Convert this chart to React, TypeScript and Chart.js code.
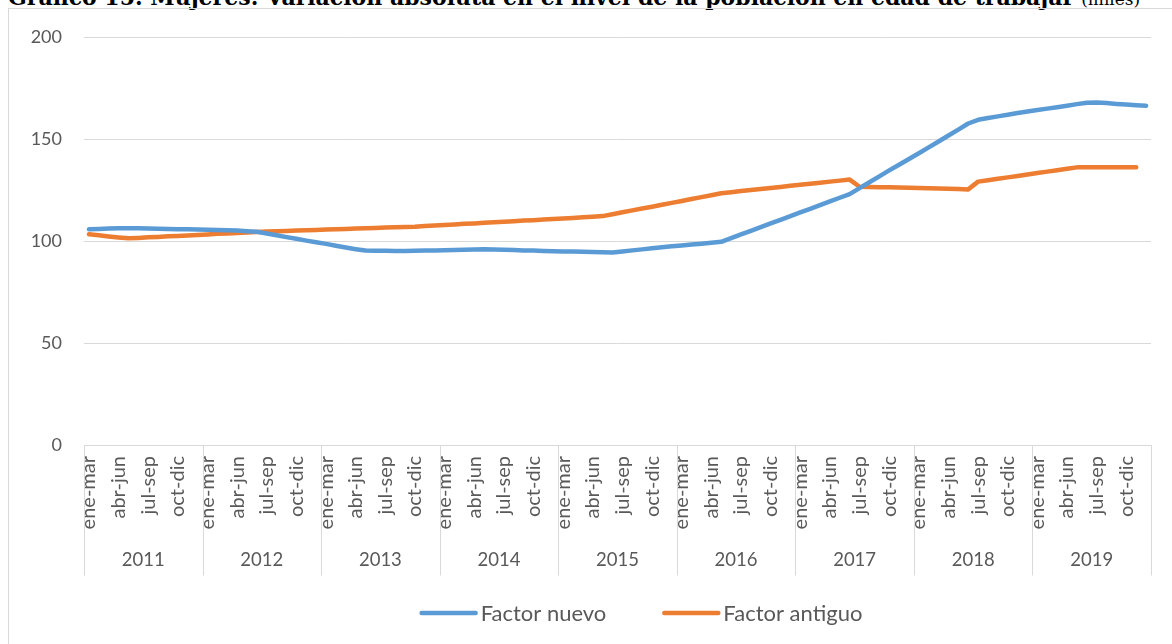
import React, { useEffect, useRef } from 'react';
import { Chart, registerables } from 'chart.js';

Chart.register(...registerables);

const TITLE_MAIN = 'Gráfico 15. Mujeres: Variación absoluta en el nivel de la población en edad de trabajar';
const TITLE_UNIT = '(miles)';

const years = ['2011', '2012', '2013', '2014', '2015', '2016', '2017', '2018', '2019'];
const periods = ['ene-mar', 'feb-abr', 'mar-may', 'abr-jun', 'may-jul', 'jun-ago', 'jul-sep', 'ago-oct', 'sep-nov', 'oct-dic', 'nov-ene', 'dic-feb'];
const yMin = 0;
const yMax = 200;
const yStep = 50;

const seriesNames = ['Factor nuevo', 'Factor antiguo'];
const seriesColors = ['#5B9BD5', '#ED7D31'];

const factorNuevo = [
  105.7, 105.9, 106.1, 106.2, 106.3, 106.2, 106.1, 106.0, 105.9, 105.8, 105.7, 105.6,
  105.5, 105.4, 105.3, 105.1, 104.8, 104.5, 103.7, 102.8, 101.9, 101.1, 100.2, 99.4,
  98.6, 97.7, 96.8, 96.0, 95.3, 95.2, 95.2, 95.1, 95.1, 95.2, 95.3, 95.4,
  95.5, 95.6, 95.7, 95.8, 95.9, 95.8, 95.7, 95.6, 95.4, 95.3, 95.1, 95.0,
  94.9, 94.8, 94.7, 94.6, 94.5, 94.4, 94.9, 95.4, 95.9, 96.4, 96.9, 97.4,
  97.8, 98.3, 98.7, 99.1, 99.6, 101.4, 103.2, 105.0, 106.8, 108.6, 110.4, 112.2,
  114.0, 115.8, 117.6, 119.4, 121.2, 123.0, 125.9, 128.8, 131.7, 134.6, 137.4, 140.2,
  143.0, 145.9, 148.8, 151.7, 154.6, 157.6, 159.4, 160.3, 161.1, 161.9, 162.7, 163.5,
  164.2, 164.9, 165.6, 166.3, 167.1, 167.8, 167.9, 167.6, 167.2, 166.9, 166.6, 166.3,
];

const factorAntiguo = [
  103.3, 102.8, 102.2, 101.7, 101.3, 101.5, 101.8, 102.0, 102.3, 102.5, 102.7, 103.0,
  103.2, 103.5, 103.7, 103.9, 104.2, 104.4, 104.6, 104.8, 104.9, 105.1, 105.3, 105.4,
  105.6, 105.8, 105.9, 106.1, 106.2, 106.4, 106.6, 106.7, 106.9, 107.0, 107.3, 107.6,
  107.8, 108.1, 108.4, 108.6, 108.9, 109.2, 109.4, 109.7, 110.0, 110.2, 110.5, 110.8,
  111.0, 111.3, 111.6, 111.9, 112.2, 113.1, 114.1, 115.0, 115.9, 116.8, 117.8, 118.7,
  119.6, 120.6, 121.5, 122.4, 123.4, 123.9, 124.5, 125.0, 125.5, 126.0, 126.5, 127.1,
  127.6, 128.1, 128.6, 129.1, 129.6, 130.1, 126.6, 126.5, 126.4, 126.3, 126.2, 126.1,
  126.0, 125.9, 125.7, 125.6, 125.5, 125.3, 129.1, 129.8, 130.5, 131.2, 131.9, 132.6,
  133.3, 134.0, 134.7, 135.4, 136.1, 136.2, 136.2, 136.2, 136.1, 136.1, 136.1, null,
];

const FONT = 'Lato, "Liberation Sans", sans-serif';
const TEXT_COLOR = '#595959';
const LINE_COLOR = '#d9d9d9';
const Y_FONT_SIZE = 18;
const MONTH_FONT_SIZE = 20;
const YEAR_FONT_SIZE = 18.5;
const LEGEND_FONT_SIZE = 22;

const CANVAS_W = 1163;
const CANVAS_H = 635;

const groupAxisPlugin = {
  id: 'groupAxis',
  afterDraw(chart: any) {
    const x = chart.scales.x;
    const ctx = chart.ctx;
    const per = periods.length;
    const step = x.getPixelForValue(1) - x.getPixelForValue(0);
    const axisY = Math.round(x.top) + 0.5;
    const sepBottom = axisY + 130;
    ctx.save();
    ctx.strokeStyle = LINE_COLOR;
    ctx.lineWidth = 1;
    for (let g = 0; g <= years.length; g++) {
      const px = Math.round(x.getPixelForValue(g * per) - step / 2) + 0.5;
      ctx.beginPath();
      ctx.moveTo(px, axisY);
      ctx.lineTo(px, sepBottom);
      ctx.stroke();
    }
    ctx.fillStyle = TEXT_COLOR;
    ctx.font = `${YEAR_FONT_SIZE}px ${FONT}`;
    ctx.textAlign = 'center';
    ctx.textBaseline = 'middle';
    years.forEach((yr, g) => {
      const start = x.getPixelForValue(g * per) - step / 2;
      ctx.fillText(yr, start + (step * per) / 2, axisY + 115);
    });

    // legend
    ctx.font = `${LEGEND_FONT_SIZE}px ${FONT}`;
    const lineLen = 58;
    const gapText = 3;
    const itemGap = 56;
    const widths = chart.data.datasets.map((d: any) => ctx.measureText(d.label).width);
    const total = widths.reduce((a: number, w: number) => a + lineLen + gapText + w, 0) + itemGap * (widths.length - 1);
    let cx = 632 - total / 2;
    const ly = 604;
    chart.data.datasets.forEach((d: any, i: number) => {
      ctx.strokeStyle = d.borderColor;
      ctx.lineWidth = 4.5;
      ctx.lineCap = 'round';
      ctx.beginPath();
      ctx.moveTo(cx + 2, ly);
      ctx.lineTo(cx + lineLen - 2, ly);
      ctx.stroke();
      ctx.fillStyle = TEXT_COLOR;
      ctx.textAlign = 'left';
      ctx.fillText(d.label, cx + lineLen + gapText, ly + 1);
      cx += lineLen + gapText + widths[i] + itemGap;
    });
    ctx.restore();
  },
};

export default function App() {
  const ref = useRef<HTMLCanvasElement | null>(null);

  useEffect(() => {
    if (!ref.current) return;
    const labels = years.flatMap(() => periods);
    const chart = new Chart(ref.current, {
      type: 'line',
      data: {
        labels,
        datasets: [
          {
            label: seriesNames[0],
            data: factorNuevo,
            borderColor: seriesColors[0],
            backgroundColor: seriesColors[0],
            borderWidth: 4.5,
            pointRadius: 0,
            tension: 0,
            borderCapStyle: 'round',
            borderJoinStyle: 'round',
          },
          {
            label: seriesNames[1],
            data: factorAntiguo,
            borderColor: seriesColors[1],
            backgroundColor: seriesColors[1],
            borderWidth: 4.5,
            pointRadius: 0,
            tension: 0,
            borderCapStyle: 'round',
            borderJoinStyle: 'round',
          },
        ],
      },
      options: {
        responsive: false,
        animation: false,
        layout: { padding: { left: 0, right: 21, top: 28, bottom: 0 } },
        plugins: {
          legend: { display: false },
          title: { display: false },
          tooltip: { enabled: false },
        },
        scales: {
          x: {
            type: 'category',
            offset: true,
            grid: { display: false, drawTicks: false },
            border: { display: true, color: LINE_COLOR },
            ticks: {
              autoSkip: false,
              minRotation: 90,
              maxRotation: 90,
              padding: 11,
              color: TEXT_COLOR,
              font: { family: FONT, size: MONTH_FONT_SIZE },
              callback: (_v: any, i: number) => (i % 3 === 0 ? labels[i] : ''),
            },
            afterFit: (s: any) => {
              s.height = 199;
              s.paddingLeft = 0;
              s.paddingRight = 0;
            },
          },
          y: {
            min: yMin,
            max: yMax,
            grid: { color: LINE_COLOR, drawTicks: false },
            border: { display: false },
            ticks: {
              stepSize: yStep,
              padding: 22,
              color: TEXT_COLOR,
              font: { family: FONT, size: Y_FONT_SIZE },
            },
            afterFit: (s: any) => {
              s.width = 75;
              s.paddingTop = 0;
              s.paddingBottom = 0;
            },
          },
        },
      },
      plugins: [groupAxisPlugin],
    });
    return () => chart.destroy();
  }, []);

  return (
    <div style={{ position: 'absolute', left: 0, top: 0, width: 1172, height: 644, overflow: 'hidden', background: '#fff' }}>
      <div
        style={{
          position: 'absolute',
          left: 8,
          top: -14,
          whiteSpace: 'nowrap',
          fontFamily: '"DejaVu Serif", serif',
          fontSize: 22,
          lineHeight: '22px',
          color: '#000',
        }}
      >
        <span style={{ fontWeight: 'bold' }}>{TITLE_MAIN}</span>{' '}
        <span style={{ fontSize: 17 }}>{TITLE_UNIT}</span>
      </div>
      <div
        style={{
          position: 'absolute',
          left: 8,
          top: 8,
          width: 1200,
          height: 700,
          border: `1px solid ${LINE_COLOR}`,
          boxSizing: 'border-box',
        }}
      />
      <canvas
        ref={ref}
        width={CANVAS_W}
        height={CANVAS_H}
        style={{ position: 'absolute', left: 9, top: 9, width: CANVAS_W, height: CANVAS_H }}
      />
    </div>
  );
}
